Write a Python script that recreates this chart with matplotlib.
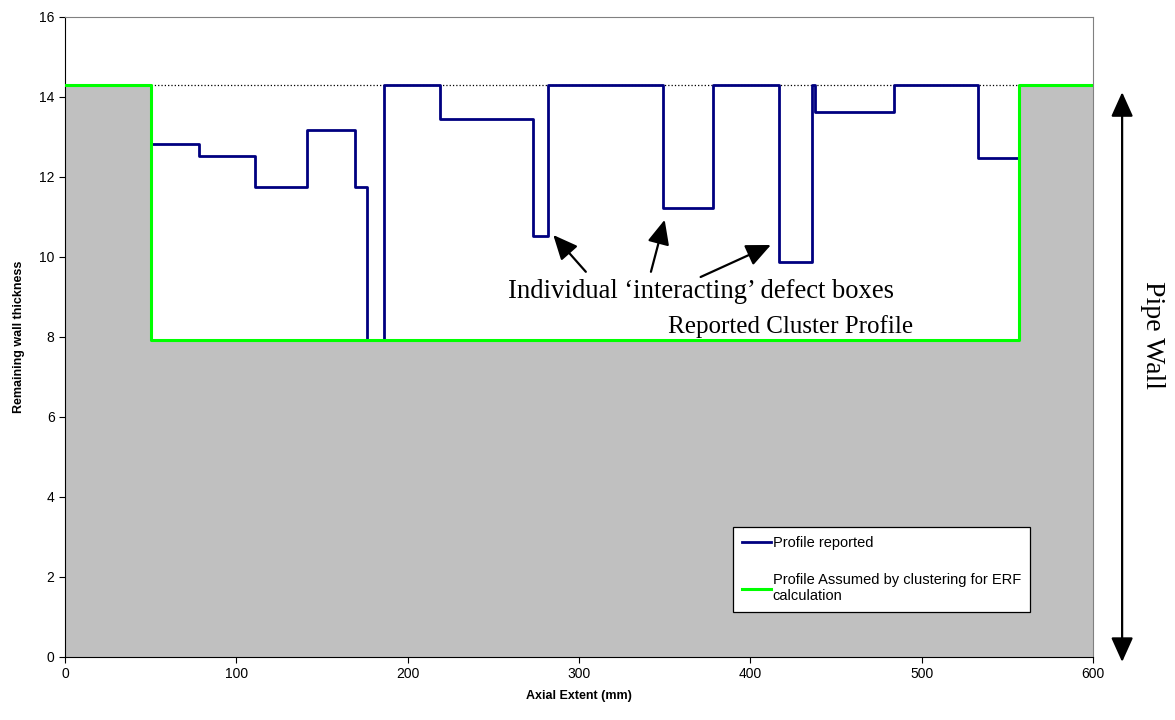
import matplotlib
matplotlib.use('Agg')
import matplotlib.pyplot as plt

plt.rcParams['font.family'] = ['Liberation Sans', 'DejaVu Sans']

# cluster profile assumed for ERF calculation
cluster_x = [0, 50, 50, 557, 557, 600]
cluster_y = [14.3, 14.3, 7.92, 7.92, 14.3, 14.3]

# reported profile (step edges and the level after each edge)
edges = [50, 78, 111, 141, 169, 176, 186, 219, 273, 282, 349, 378, 417, 436, 438, 484, 533, 557]
levels = [12.83, 12.53, 11.74, 13.17, 11.76, 7.92, 14.3, 13.45, 10.53, 14.3, 11.22, 14.3,
          9.87, 14.3, 13.63, 14.3, 12.48]

nominal = 14.3
x_ticks = [0, 100, 200, 300, 400, 500, 600]
y_ticks = [0, 2, 4, 6, 8, 10, 12, 14, 16]

fig = plt.figure(figsize=(11.75, 7.2), dpi=100)
ax = fig.add_axes([0.0553, 0.0875, 0.8749, 0.8889])

ax.fill_between(cluster_x, 0, cluster_y, color='#C0C0C0', linewidth=0, zorder=1)
ax.plot([cluster_x[1], cluster_x[4]], [nominal, nominal], color='black', linestyle=':',
        linewidth=0.9, zorder=2)
ax.step(edges, levels + [levels[-1]], where='post', color='#000080', linewidth=2.0,
        label='Profile reported', zorder=3)
ax.plot(cluster_x, cluster_y, color='#00FF00', linewidth=2.2,
        label='Profile Assumed by clustering for ERF\ncalculation', zorder=4)

ax.set_xlim(0, 600)
ax.set_ylim(0, 16)
ax.set_xticks(x_ticks)
ax.set_yticks(y_ticks)
ax.tick_params(labelsize=10, direction='out', length=4)
for s in ['top', 'right']:
    ax.spines[s].set_color('#808080')
ax.set_xlabel('Axial Extent (mm)', fontsize=9, fontweight='bold', labelpad=6)
ax.set_ylabel('Remaining wall thickness', fontsize=9, fontweight='bold', labelpad=10)

# annotations
serif = ['Liberation Serif', 'DejaVu Serif']
ax.text(371, 8.97, 'Individual \u2018interacting\u2019 defect boxes', family=serif,
        fontsize=19.2, ha='center', va='baseline')
ax.text(495, 8.1, 'Reported Cluster Profile', family=serif, fontsize=18,
        ha='right', va='baseline')
head = '-|>,head_length=0.6,head_width=0.27'
arrow_kw = dict(arrowstyle=head, color='black', lw=1.6, mutation_scale=25,
                shrinkA=0, shrinkB=0)
ax.annotate('', xy=(285, 10.55), xytext=(304, 9.63), arrowprops=arrow_kw)
ax.annotate('', xy=(350, 10.93), xytext=(342, 9.63), arrowprops=arrow_kw)
ax.annotate('', xy=(412, 10.3), xytext=(371, 9.5), arrowprops=arrow_kw)

# pipe wall double arrow outside the axes
ax.annotate('', xy=(0.955, 0.0806), xytext=(0.955, 0.872), xycoords='figure fraction',
            textcoords='figure fraction',
            arrowprops=dict(arrowstyle='<|-|>,head_length=0.6,head_width=0.27',
                            color='black', lw=1.6, mutation_scale=25,
                            shrinkA=0, shrinkB=0))
fig.text(0.981, 0.535, 'Pipe Wall', family=serif, fontsize=20, rotation=-90,
         ha='center', va='center')

leg = ax.legend(loc='lower left', bbox_to_anchor=(0.65, 0.07), fontsize=10.5,
                frameon=True, fancybox=False, handlelength=2.0, handletextpad=0.12,
                labelspacing=1.6, borderpad=0.6, borderaxespad=0)
leg.get_frame().set_edgecolor('black')
leg.get_frame().set_linewidth(0.9)
leg.get_frame().set_alpha(1)

fig.savefig('out.png', dpi=100)
